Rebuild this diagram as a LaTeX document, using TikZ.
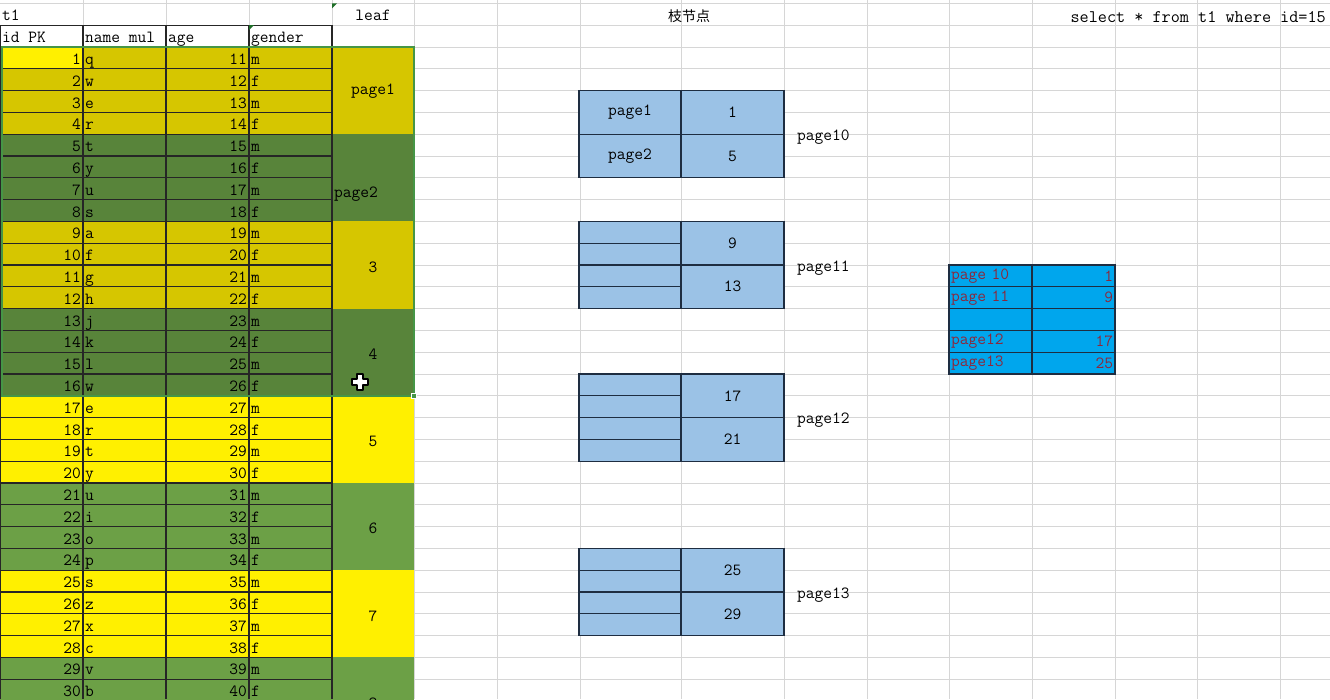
\documentclass[tikz,border=0pt]{standalone}
\usepackage{fontspec}
\usepackage{tikz}
\newfontfamily\cjk{Noto Sans CJK SC}

\definecolor{selyellow}{RGB}{214,198,0}
\definecolor{selgreen}{RGB}{88,132,58}
\definecolor{plainyellow}{RGB}{255,240,0}
\definecolor{plaingreen}{RGB}{108,160,70}
\definecolor{lightblue}{RGB}{155,194,230}
\definecolor{brightblue}{RGB}{0,166,237}
\definecolor{gridgray}{RGB}{214,214,214}
\definecolor{selborder}{RGB}{70,150,70}
\definecolor{markgreen}{RGB}{30,110,40}
\definecolor{darkred}{RGB}{140,40,60}
\definecolor{boxline}{RGB}{30,45,65}

\tikzset{
  txt/.style={font=\ttfamily\fontsize{17}{19}\selectfont,inner sep=0pt},
  gridline/.style={gridgray,line width=1},
  cellline/.style={black!85,line width=1.3},
  bcell/.style={txt,draw=boxline,fill=lightblue,line width=1.3,minimum height=43.6},
  qcell/.style={txt,draw=boxline,fill=brightblue,line width=1.3,minimum width=83,minimum height=21.8,text width=79,text=darkred}
}

\begin{document}
\begin{tikzpicture}[x=1pt,y=-1pt]
      \def\rh{21.8}
      \useasboundingbox (0,0) rectangle (1330,699);
      \clip (0,0) rectangle (1330,699);
      \fill[white] (0,0) rectangle (1330,699);

      \foreach \gx in {83,166,249,332,414,497,580,681,784,867,949,1032,1115,1197,1280}
        \draw[gridline] (\gx,0) -- (\gx,699);
      \foreach \k in {0,...,32}
        \draw[gridline] (0,{3.4+\k*\rh}) -- (1330,{3.4+\k*\rh});

      \foreach \g/\col in {0/selyellow,1/selgreen,2/selyellow,3/selgreen,4/plainyellow,5/plaingreen,6/plainyellow,7/plaingreen}
        \fill[\col] (0,{47+4*\g*\rh}) rectangle (414,{47+4*(\g+1)*\rh});
      \fill[plainyellow] (1,48) rectangle (82,{47+\rh});

      \foreach \k in {0,...,31}
        \draw[cellline] (0,{47+(\k-1)*\rh}) -- (332,{47+(\k-1)*\rh});
      \foreach \gx in {0.6,83,166,249,332}
        \draw[cellline] (\gx,{47-\rh}) -- (\gx,699);

      \node[txt,anchor=base west] (tname) at (2,20) {t1};
      \node[txt,anchor=base] (leaf) at (373,20) {leaf};
      \node[txt,anchor=base west] (hid) at (2,42) {id PK};
      \node[txt,anchor=base west] (hname) at (85,42) {name mul};
      \node[txt,anchor=base west] (hage) at (168,42) {age};
      \node[txt,anchor=base west] (hsex) at (251,42) {gender};
      \fill[markgreen] (332,3.4) -- ++(5,0) -- ++(-5,5) -- cycle;
      \fill[markgreen] (249,25.2) -- ++(5,0) -- ++(-5,5) -- cycle;

      \foreach \i/\nm in {1/q,2/w,3/e,4/r,5/t,6/y,7/u,8/s,9/a,10/f,11/g,12/h,13/j,14/k,15/l,16/w,17/e,18/r,19/t,20/y,21/u,22/i,23/o,24/p,25/s,26/z,27/x,28/c,29/v,30/b} {
        \pgfmathsetmacro{\yb}{47+(\i-1)*\rh+17.5}
        \pgfmathtruncatemacro{\age}{\i+10}
        \pgfmathtruncatemacro{\odd}{mod(\i,2)}
        \ifnum\odd=1 \def\sx{m}\else\def\sx{f}\fi
        \node[txt,anchor=base east] (id\i) at (81,\yb) {\i};
        \node[txt,anchor=base west] (nm\i) at (85,\yb) {\nm};
        \node[txt,anchor=base east] (age\i) at (247,\yb) {\age};
        \node[txt,anchor=base west] (sx\i) at (251,\yb) {\sx};
      }

      \node[txt] (leaf1) at (373,{47+2*\rh+1}) {page1};
      \node[txt,anchor=west] (leaf2) at (334,{47+6*\rh+16}) {page2};
      \node[txt] (leaf3) at (373,{47+10*\rh+2}) {3};
      \node[txt] (leaf4) at (373,{47+14*\rh+2}) {4};
      \node[txt] (leaf5) at (373,{47+18*\rh+2}) {5};
      \node[txt] (leaf6) at (373,{47+22*\rh+2}) {6};
      \node[txt] (leaf7) at (373,{47+26*\rh+2}) {7};
      \node[txt] (leaf8) at (373,{47+30*\rh+2}) {8};

      \draw[selborder,line width=2] (1.5,47) rectangle (414,{47+16*\rh});
      \fill[selborder,draw=white,line width=0.8] (411.5,{47+16*\rh-2.5}) rectangle ++(5,5);
      \draw[fill=white,line width=1.4,line join=round] (357,374) -- (363,374) -- (363,379) -- (368,379) -- (368,385) -- (363,385) -- (363,390) -- (357,390) -- (357,385) -- (352,385) -- (352,379) -- (357,379) -- cycle;

      \node[font=\cjk\fontsize{14}{16}\selectfont,inner sep=0pt] (branch) at (689,16) {枝节点};
      \node[txt,font=\ttfamily\fontsize{17.7}{19}\selectfont,anchor=base east] (query) at (1326,22) {select * from t1 where id=15};

      \node[bcell,minimum width=102] (p10a) at (630,{47+3*\rh}) {page1};
      \node[bcell,minimum width=102] (p10b) at (630,{47+5*\rh}) {page2};
      \node[bcell,minimum width=103] (p10c) at (732.5,{47+3*\rh}) {1};
      \node[bcell,minimum width=103] (p10d) at (732.5,{47+5*\rh}) {5};
      \node[txt,anchor=west] (p10) at (797,{47+4*\rh+3}) {page10};

      \foreach \nm/\r/\a/\b in {11/8/9/13,12/15/17/21,13/23/25/29} {
        \foreach \s in {0,...,3}
          \node[bcell,minimum width=102,minimum height=\rh] (p\nm s\s) at (630,{47+(\r+\s+0.5)*\rh}) {};
        \node[bcell,minimum width=103] (p\nm a) at (732.5,{47+(\r+1)*\rh}) {\a};
        \node[bcell,minimum width=103] (p\nm b) at (732.5,{47+(\r+3)*\rh}) {\b};
        \node[txt,anchor=west] (p\nm) at (797,{47+(\r+2)*\rh+3}) {page\nm};
      }

      \foreach \k/\pg/\v in {0/page 10/1,1/page 11/9,2//,3/page12/17,4/page13/25} {
        \node[qcell,align=left] (q\k l) at (990.5,{47+(10+\k+0.5)*\rh}) {\pg};
        \node[qcell,align=right] (q\k r) at (1073.5,{47+(10+\k+0.5)*\rh}) {\v};
      }
\end{tikzpicture}
\end{document}
